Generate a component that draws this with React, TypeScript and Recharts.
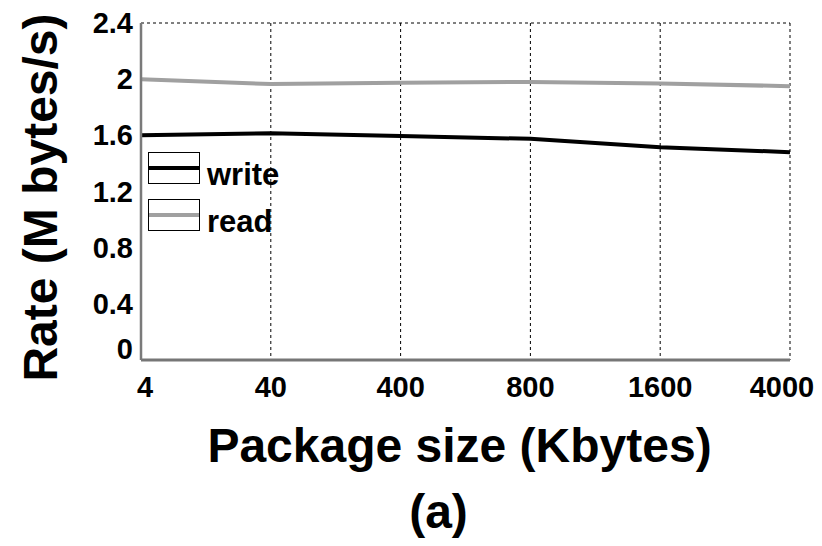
import React from 'react';
import { LineChart, Line, XAxis, YAxis, CartesianGrid, Legend, Label } from 'recharts';

const sizes = ['4', '40', '400', '800', '1600', '4000'];
const writeRate = [1.6, 1.615, 1.595, 1.575, 1.515, 1.48];
const readRate = [2.0, 1.965, 1.975, 1.98, 1.97, 1.95];
const yTicks = [0, 0.4, 0.8, 1.2, 1.6, 2, 2.4];
const yTickLabels = ['0', '0.4', '0.8', '1.2', '1.6', '2', '2.4'];

const data = sizes.map((s, i) => ({ size: s, write: writeRate[i], read: readRate[i] }));

const FONT = '"Liberation Sans", Arial, Helvetica, sans-serif';

const XTick = (props: any) => {
  const { x, y, payload, index } = props;
  let dx = 0;
  if (index === 0) dx = 4;
  if (index === sizes.length - 1) dx = -8;
  return (
    <text x={x + dx} y={y + 29} textAnchor="middle" fontFamily={FONT} fontWeight="bold" fontSize={29} fill="#000">
      {payload.value}
    </text>
  );
};

const YTick = (props: any) => {
  const { x, y, payload } = props;
  const idx = yTicks.indexOf(payload.value);
  const dy = payload.value === 0 ? -11 : 0;
  return (
    <text x={x} y={y + dy + 10} textAnchor="end" fontFamily={FONT} fontWeight="bold" fontSize={29} fill="#000">
      {idx >= 0 ? yTickLabels[idx] : payload.value}
    </text>
  );
};

const LegendContent = () => {
  const items = [
    { name: 'write', color: '#000000' },
    { name: 'read', color: '#a0a0a0' },
  ];
  return (
    <div style={{ display: 'flex', flexDirection: 'column', gap: 15 }}>
      {items.map((it) => (
        <div key={it.name} style={{ display: 'flex', alignItems: 'flex-end', height: 32 }}>
          <div
            style={{
              width: 50,
              height: 30,
              border: '1.5px solid #000',
              position: 'relative',
              background: '#fff',
              boxSizing: 'content-box',
            }}
          >
            <div style={{ position: 'absolute', left: 0, right: 0, top: 13, height: 4, background: it.color }} />
          </div>
          <span
            style={{
              fontFamily: FONT,
              fontWeight: 'bold',
              fontSize: 31,
              lineHeight: '31px',
              marginLeft: 7,
              marginBottom: -6,
              color: '#000',
            }}
          >
            {it.name}
          </span>
        </div>
      ))}
    </div>
  );
};

export default function App() {
  return (
    <div style={{ position: 'absolute', left: 0, top: 0, width: 822, height: 546, background: '#fff' }}>
      <LineChart
        width={822}
        height={546}
        data={data}
        margin={{ top: 23, right: 32, left: 71, bottom: 146 }}
      >
        <CartesianGrid stroke="#000" strokeDasharray="3 3" strokeWidth={1} />
        <XAxis
          dataKey="size"
          xAxisId="bottom"
          height={40}
          tickLine={false}
          axisLine={{ stroke: '#767676', strokeWidth: 3 }}
          tick={<XTick />}
          interval={0}
        >
          <Label
            content={(p: any) => {
              const vb = p.viewBox;
              const cx = vb.x + vb.width / 2 - 6;
              return (
                <g>
                  <text x={cx} y={462} textAnchor="middle" fontFamily={FONT} fontWeight="bold" fontSize={48} fill="#000">
                    Package size (Kbytes)
                  </text>
                  <text x={cx - 21} y={528} textAnchor="middle" fontFamily={FONT} fontWeight="bold" fontSize={48} fill="#000">
                    (a)
                  </text>
                </g>
              );
            }}
          />
        </XAxis>
        <XAxis
          dataKey="size"
          xAxisId="top"
          orientation="top"
          height={0}
          tick={false}
          tickLine={false}
          axisLine={{ stroke: '#b8b8b8', strokeWidth: 3 }}
        />
        <YAxis
          yAxisId="left"
          domain={[0, 2.4]}
          ticks={yTicks}
          width={70}
          tickLine={false}
          axisLine={{ stroke: '#7a7a7a', strokeWidth: 2.5 }}
          tick={<YTick />}
          interval={0}
        >
          <Label
            content={(p: any) => {
              const vb = p.viewBox;
              const cy = vb.y + vb.height / 2 + 6;
              return (
                <text
                  x={57}
                  y={cy}
                  transform={`rotate(-90, 57, ${cy})`}
                  textAnchor="middle"
                  fontFamily={FONT}
                  fontWeight="bold"
                  fontSize={48}
                  fill="#000"
                >
                  Rate (M bytes/s)
                </text>
              );
            }}
          />
        </YAxis>
        <YAxis
          yAxisId="right"
          orientation="right"
          domain={[0, 2.4]}
          width={0}
          tick={false}
          tickLine={false}
          axisLine={{ stroke: '#b8b8b8', strokeWidth: 3 }}
        />
        <Legend
          layout="horizontal"
          verticalAlign="middle"
          align="center"
          content={<LegendContent />}
          wrapperStyle={{ position: 'absolute', left: 148, top: 152, width: 'auto', height: 'auto' }}
        />
        <Line
          xAxisId="bottom"
          yAxisId="left"
          type="linear"
          dataKey="write"
          stroke="#000000"
          strokeWidth={4}
          dot={false}
          isAnimationActive={false}
        />
        <Line
          xAxisId="bottom"
          yAxisId="left"
          type="linear"
          dataKey="read"
          stroke="#a0a0a0"
          strokeWidth={4}
          dot={false}
          isAnimationActive={false}
        />
      </LineChart>
    </div>
  );
}
